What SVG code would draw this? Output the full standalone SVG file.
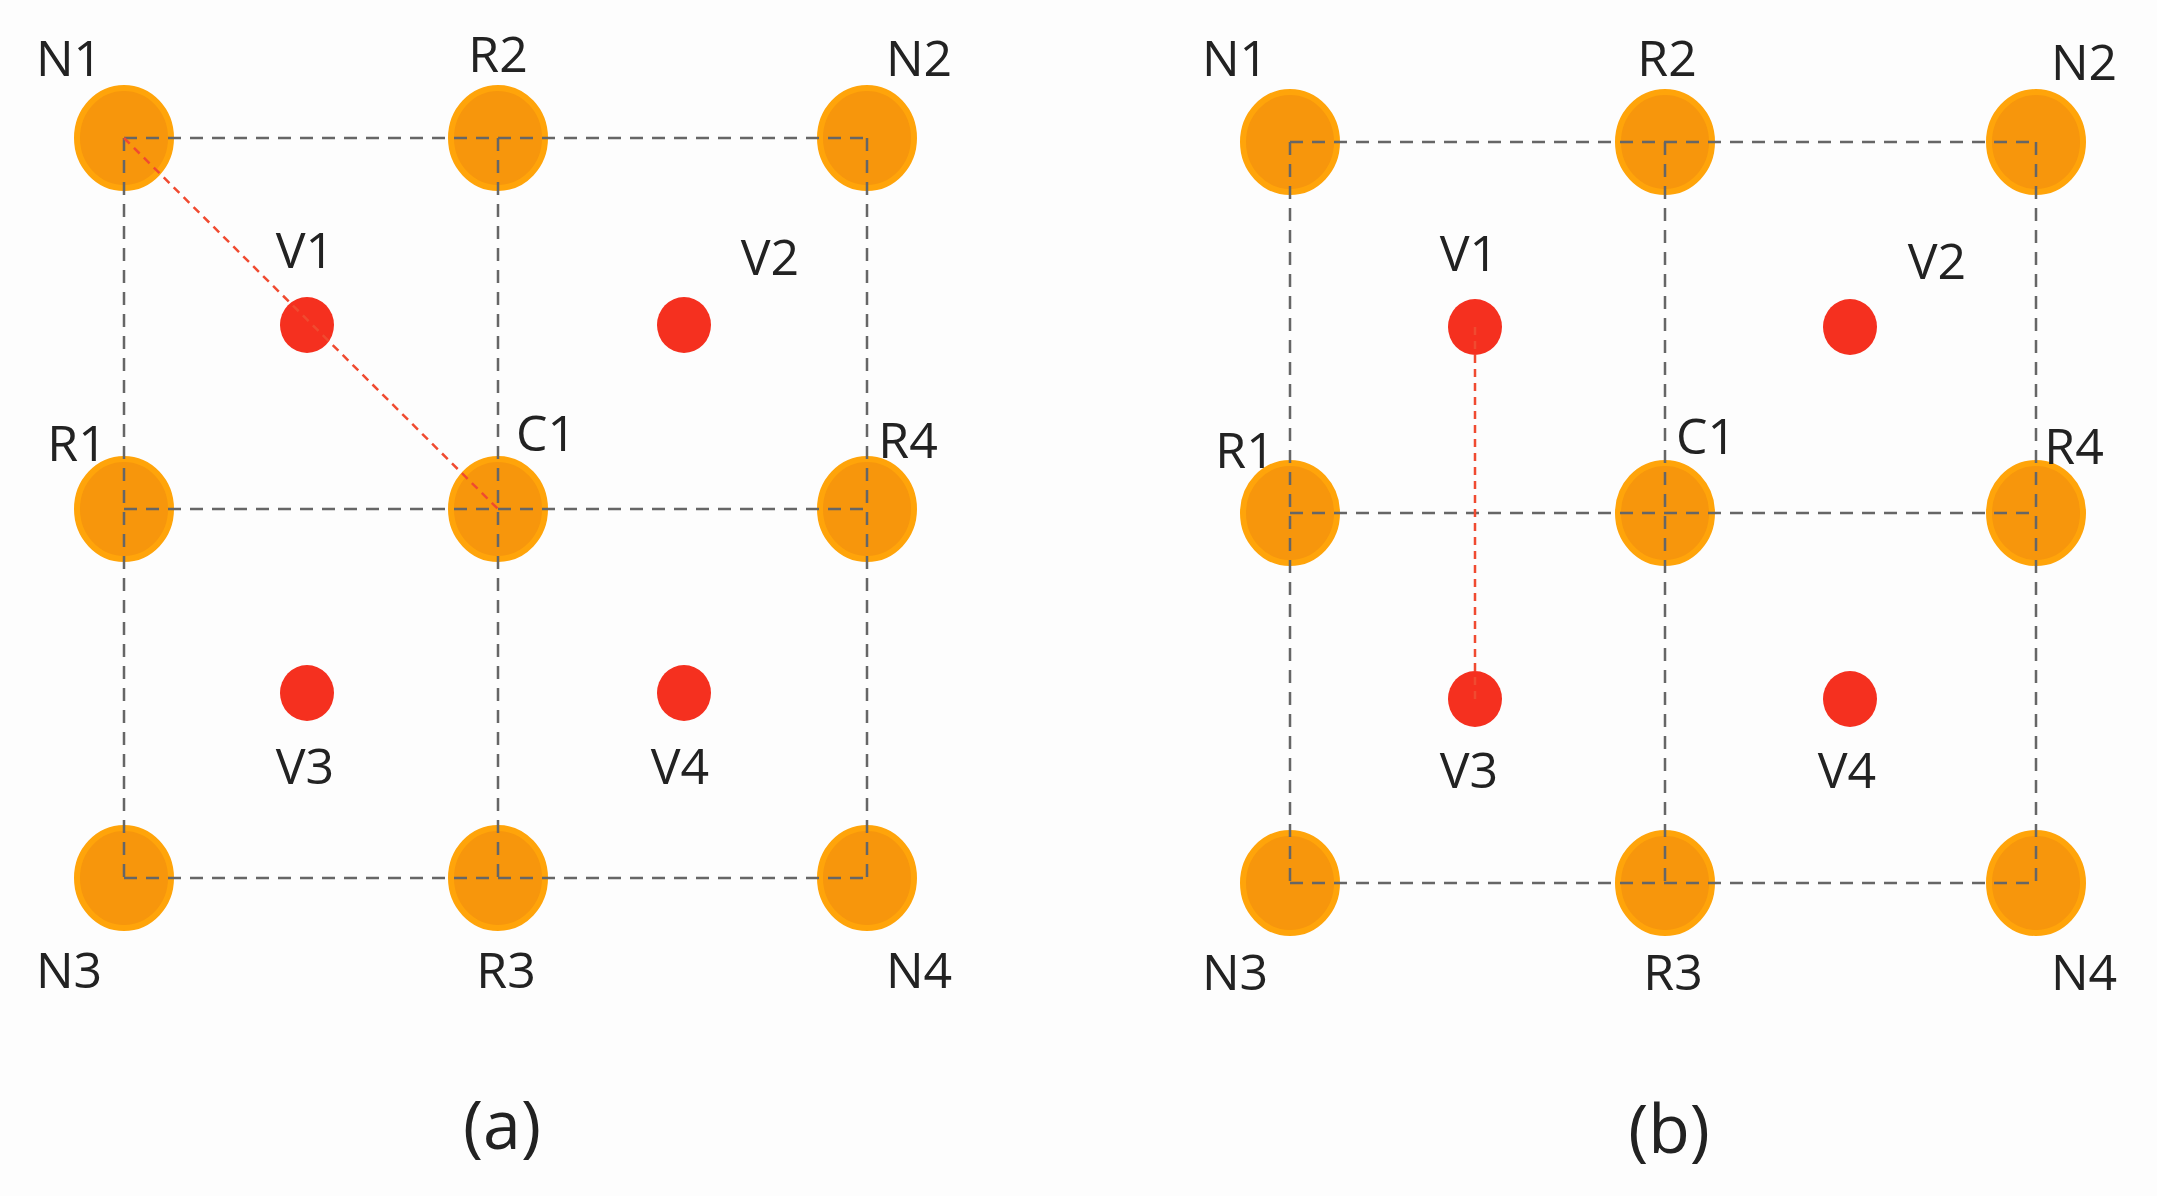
<svg xmlns="http://www.w3.org/2000/svg" width="2157" height="1196" viewBox="0 0 2157 1196">
<style>
.o{fill:#F7960C;stroke:#FFA40A;stroke-width:6}
.v{fill:#F5301F}
.g{stroke:#666;stroke-width:2.5;stroke-dasharray:13 9;fill:none}
.r{stroke:#F04A30;stroke-width:2.5;stroke-dasharray:8 6;fill:none}
text{font-family:"Open Sans","Liberation Sans",sans-serif;font-size:50px;fill:#222;text-anchor:middle}
.cap{font-size:68px}
</style>
<rect width="2157" height="1196" fill="#FDFDFD"/>
<g id="a-nodes">
<g id="a-N1"><ellipse class="o" cx="124" cy="138" rx="47" ry="50"/><text x="69" y="76">N1</text></g>
<g id="a-R2"><ellipse class="o" cx="498" cy="138" rx="47" ry="50"/><text x="498" y="72">R2</text></g>
<g id="a-N2"><ellipse class="o" cx="867" cy="138" rx="47" ry="50"/><text x="919" y="76">N2</text></g>
<g id="a-R1"><ellipse class="o" cx="124" cy="509" rx="47" ry="50"/><text x="77" y="461">R1</text></g>
<g id="a-C1"><ellipse class="o" cx="498" cy="509" rx="47" ry="50"/><text x="546" y="451">C1</text></g>
<g id="a-R4"><ellipse class="o" cx="867" cy="509" rx="47" ry="50"/><text x="908" y="458">R4</text></g>
<g id="a-N3"><ellipse class="o" cx="124" cy="878" rx="47" ry="50"/><text x="69" y="988">N3</text></g>
<g id="a-R3"><ellipse class="o" cx="498" cy="878" rx="47" ry="50"/><text x="506" y="988">R3</text></g>
<g id="a-N4"><ellipse class="o" cx="867" cy="878" rx="47" ry="50"/><text x="919" y="988">N4</text></g>
<g id="a-V1"><ellipse class="v" cx="307" cy="325" rx="27" ry="28"/><text x="305" y="268">V1</text></g>
<g id="a-V2"><ellipse class="v" cx="684" cy="325" rx="27" ry="28"/><text x="770" y="275">V2</text></g>
<g id="a-V3"><ellipse class="v" cx="307" cy="693" rx="27" ry="28"/><text x="305" y="784">V3</text></g>
<g id="a-V4"><ellipse class="v" cx="684" cy="693" rx="27" ry="28"/><text x="680" y="784">V4</text></g>
</g>
<g id="b-nodes">
<g id="b-N1"><ellipse class="o" cx="1290" cy="142" rx="47" ry="50"/><text x="1235" y="76">N1</text></g>
<g id="b-R2"><ellipse class="o" cx="1665" cy="142" rx="47" ry="50"/><text x="1667" y="76">R2</text></g>
<g id="b-N2"><ellipse class="o" cx="2036" cy="142" rx="47" ry="50"/><text x="2084" y="80">N2</text></g>
<g id="b-R1"><ellipse class="o" cx="1290" cy="513" rx="47" ry="50"/><text x="1245" y="468">R1</text></g>
<g id="b-C1"><ellipse class="o" cx="1665" cy="513" rx="47" ry="50"/><text x="1706" y="454">C1</text></g>
<g id="b-R4"><ellipse class="o" cx="2036" cy="513" rx="47" ry="50"/><text x="2074" y="464">R4</text></g>
<g id="b-N3"><ellipse class="o" cx="1290" cy="883" rx="47" ry="50"/><text x="1235" y="990">N3</text></g>
<g id="b-R3"><ellipse class="o" cx="1665" cy="883" rx="47" ry="50"/><text x="1673" y="990">R3</text></g>
<g id="b-N4"><ellipse class="o" cx="2036" cy="883" rx="47" ry="50"/><text x="2084" y="990">N4</text></g>
<g id="b-V1"><ellipse class="v" cx="1475" cy="327" rx="27" ry="28"/><text x="1469" y="271">V1</text></g>
<g id="b-V2"><ellipse class="v" cx="1850" cy="327" rx="27" ry="28"/><text x="1937" y="279">V2</text></g>
<g id="b-V3"><ellipse class="v" cx="1475" cy="699" rx="27" ry="28"/><text x="1469" y="788">V3</text></g>
<g id="b-V4"><ellipse class="v" cx="1850" cy="699" rx="27" ry="28"/><text x="1847" y="788">V4</text></g>
</g>
<g id="connectors">
<path class="g" stroke="#333" d="M124 138H867"/>
<path class="g" d="M124 509H867M124 878H867M124 138V878M498 138V878M867 138V878"/>
<path class="r" d="M124 138L498 509"/>
<path class="g" d="M1290 142H2036M1290 513H2036M1290 883H2036M1290 142V883M1665 142V883M2036 142V883"/>
<path class="r" d="M1475 327V699"/>
</g>
<text class="cap" x="502" y="1149">(a)</text>
<text class="cap" x="1669" y="1153">(b)</text>
</svg>
